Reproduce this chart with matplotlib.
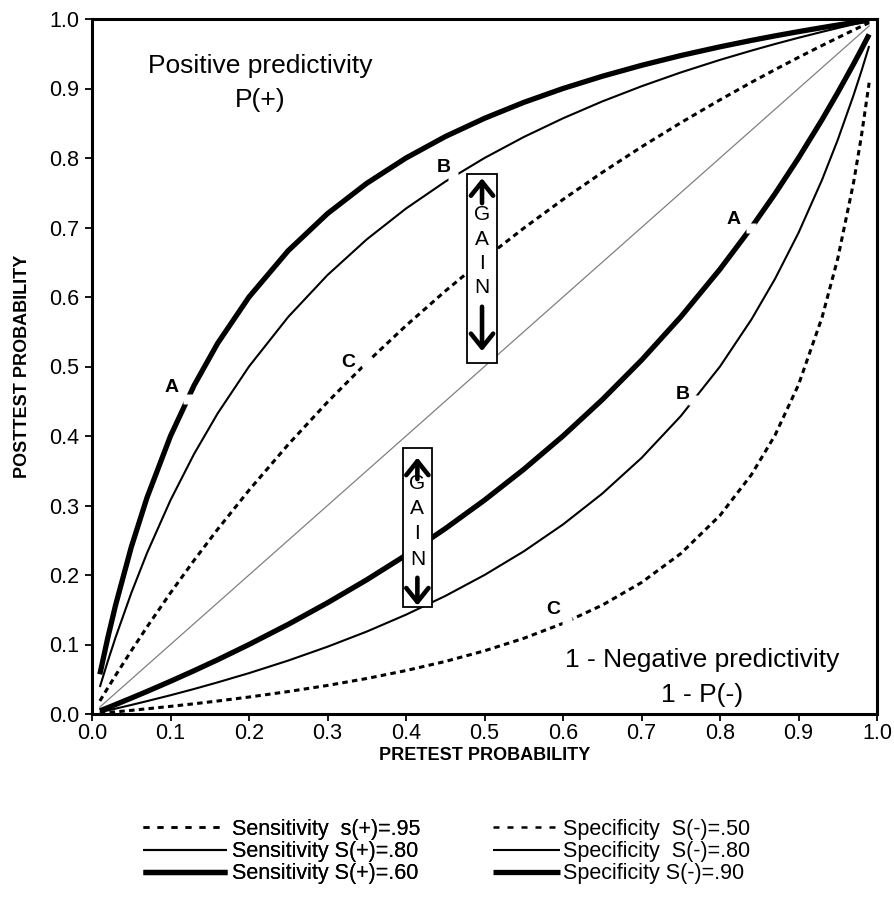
import matplotlib
matplotlib.use('Agg')
import matplotlib.pyplot as plt
import numpy as np
from matplotlib.patches import Rectangle
from matplotlib.lines import Line2D

plt.rcParams['font.family'] = ['Liberation Sans', 'DejaVu Sans']

# ---------------- data ----------------
pretest = [0.01, 0.02, 0.03, 0.05, 0.07, 0.10, 0.13, 0.16, 0.20, 0.25, 0.30, 0.35,
           0.40, 0.45, 0.50, 0.55, 0.60, 0.65, 0.70, 0.75, 0.80, 0.84, 0.87, 0.90,
           0.93, 0.95, 0.97, 0.98, 0.99]

# Positive predictivity P(+)
pos_s95 = [0.0188, 0.0373, 0.0555, 0.0909, 0.1251, 0.1743, 0.2211, 0.2657, 0.3220, 0.3878,
           0.4488, 0.5057, 0.5588, 0.6085, 0.6552, 0.6990, 0.7403, 0.7792, 0.8160, 0.8507,
           0.8837, 0.9089, 0.9271, 0.9448, 0.9619, 0.9730, 0.9840, 0.9894, 0.9947]
pos_s80 = [0.0388, 0.0755, 0.1101, 0.1739, 0.2314, 0.3077, 0.3741, 0.4324, 0.5000, 0.5714,
           0.6316, 0.6829, 0.7273, 0.7660, 0.8000, 0.8302, 0.8571, 0.8814, 0.9032, 0.9231,
           0.9412, 0.9545, 0.9640, 0.9730, 0.9815, 0.9870, 0.9923, 0.9949, 0.9975]
pos_s60 = [0.0571, 0.1091, 0.1565, 0.2400, 0.3111, 0.4000, 0.4727, 0.5333, 0.6000, 0.6667,
           0.7200, 0.7636, 0.8000, 0.8308, 0.8571, 0.8800, 0.9000, 0.9176, 0.9333, 0.9474,
           0.9600, 0.9692, 0.9757, 0.9818, 0.9876, 0.9913, 0.9949, 0.9966, 0.9983]

# 1 - Negative predictivity
neg_s50 = [0.0010, 0.0020, 0.0031, 0.0052, 0.0075, 0.0110, 0.0147, 0.0187, 0.0244, 0.0323,
           0.0411, 0.0511, 0.0625, 0.0756, 0.0909, 0.1089, 0.1304, 0.1566, 0.1892, 0.2308,
           0.2857, 0.3443, 0.4009, 0.4737, 0.5706, 0.6552, 0.7638, 0.8305, 0.9083]
neg_s80 = [0.0025, 0.0051, 0.0077, 0.0130, 0.0185, 0.0270, 0.0360, 0.0455, 0.0588, 0.0769,
           0.0968, 0.1186, 0.1429, 0.1698, 0.2000, 0.2340, 0.2727, 0.3171, 0.3684, 0.4286,
           0.5000, 0.5676, 0.6259, 0.6923, 0.7686, 0.8261, 0.8899, 0.9245, 0.9612]
neg_s90 = [0.0045, 0.0090, 0.0136, 0.0229, 0.0324, 0.0471, 0.0623, 0.0780, 0.1000, 0.1290,
           0.1600, 0.1931, 0.2286, 0.2667, 0.3077, 0.3520, 0.4000, 0.4522, 0.5091, 0.5714,
           0.6400, 0.7000, 0.7484, 0.8000, 0.8552, 0.8941, 0.9349, 0.9561, 0.9778]

diag_x = [0.01, 0.99]
diag_y = [0.01, 0.99]

sens_labels = ['Sensitivity  s(+)=.95', 'Sensitivity S(+)=.80', 'Sensitivity S(+)=.60']
spec_labels = ['Specificity  S(-)=.50', 'Specificity  S(-)=.80', 'Specificity S(-)=.90']

tick_vals = [0.0, 0.1, 0.2, 0.3, 0.4, 0.5, 0.6, 0.7, 0.8, 0.9, 1.0]
tick_labels = ['0.0', '0.1', '0.2', '0.3', '0.4', '0.5', '0.6', '0.7', '0.8', '0.9', '1.0']

# point labels: (series key, x of label point, text, text x, text y)
point_labels = [
    ('pos_s60', 0.122, 'A', 0.102, 0.470),
    ('pos_s80', 0.460, 'B', 0.448, 0.787),
    ('pos_s95', 0.350, 'C', 0.326, 0.506),
    ('neg_s90', 0.840, 'A', 0.817, 0.712),
    ('neg_s80', 0.766, 'B', 0.753, 0.460),
    ('neg_s50', 0.605, 'C', 0.587, 0.151),
]

# ---------------- figure ----------------
fig = plt.figure(figsize=(8.94, 9.0), dpi=100)
ax = fig.add_axes([92/894, 1-714/900, (877-92)/894, (714-19)/900])

dot_style = dict(color='black', lw=2.2, dashes=(1.8, 1.4), dash_capstyle='butt')
thin_style = dict(color='black', lw=1.5, solid_capstyle='butt')
thick_style = dict(color='black', lw=3.8, solid_capstyle='butt')

ax.plot(diag_x, diag_y, color='#808080', lw=0.9, zorder=2)

series = {}
series['pos_s95'] = ax.plot(pretest, pos_s95, label=sens_labels[0], zorder=3, **dot_style)[0]
series['pos_s80'] = ax.plot(pretest, pos_s80, label=sens_labels[1], zorder=3, **thin_style)[0]
series['pos_s60'] = ax.plot(pretest, pos_s60, label=sens_labels[2], zorder=3, **thick_style)[0]
series['neg_s50'] = ax.plot(pretest, neg_s50, label=spec_labels[0], zorder=3, **dot_style)[0]
series['neg_s80'] = ax.plot(pretest, neg_s80, label=spec_labels[1], zorder=3, **thin_style)[0]
series['neg_s90'] = ax.plot(pretest, neg_s90, label=spec_labels[2], zorder=3, **thick_style)[0]

data_map = {'pos_s95': pos_s95, 'pos_s80': pos_s80, 'pos_s60': pos_s60,
            'neg_s50': neg_s50, 'neg_s80': neg_s80, 'neg_s90': neg_s90}

for key, xg, txt, tx, ty in point_labels:
    yg = np.interp(xg, pretest, data_map[key])
    ax.plot([xg], [yg], marker='s', ms=7, color='white', mec='none', zorder=4)
    ax.text(tx, ty, txt, fontsize=14, fontweight='bold', ha='center', va='center', zorder=5)

ax.set_xlim(0, 1)
ax.set_ylim(0, 1)
ax.set_xticks(tick_vals)
ax.set_xticklabels(tick_labels)
ax.set_yticks(tick_vals)
ax.set_yticklabels(tick_labels)
ax.tick_params(direction='out', length=5, width=1.3, labelsize=15.5)
ax.tick_params(axis='x', pad=1.5)
ax.tick_params(axis='y', pad=4)
for sp in ax.spines.values():
    sp.set_linewidth(2.2)

ax.set_xlabel('PRETEST PROBABILITY', fontsize=13, fontweight='bold', labelpad=2)
ax.set_ylabel('POSTTEST PROBABILITY', fontsize=13, fontweight='bold', labelpad=13)

# region annotations
ax.text(0.214, 0.932, 'Positive predictivity', fontsize=19, ha='center', va='center')
ax.text(0.214, 0.884, 'P(+)', fontsize=19, ha='center', va='center')
ax.text(0.777, 0.077, '1 - Negative predictivity', fontsize=19, ha='center', va='center')
ax.text(0.777, 0.028, '1 - P(-)', fontsize=19, ha='center', va='center')

# GAIN boxes: (x0, y0, x1, y1), letter y positions, up arrow (tail, tip), down arrow (tail, tip)
gain_boxes = [
    dict(box=(0.4777, 0.505, 0.516, 0.777), letters=[0.719, 0.683, 0.648, 0.613],
         up=(0.735, 0.771), down=(0.586, 0.522)),
    dict(box=(0.396, 0.154, 0.433, 0.383), letters=[0.331, 0.295, 0.259, 0.223],
         up=(0.338, 0.369), down=(0.196, 0.156)),
]
for g in gain_boxes:
    x0, y0, x1, y1 = g['box']
    xc = (x0 + x1) / 2
    ax.add_patch(Rectangle((x0, y0), x1 - x0, y1 - y0, facecolor='white',
                           edgecolor='black', lw=1.3, zorder=6))
    for ly, ch in zip(g['letters'], 'GAIN'):
        ax.text(xc, ly, ch, fontsize=15, ha='center', va='center', zorder=7)
    for tail, tip in (g['up'], g['down']):
        ax.annotate('', xy=(xc, tip), xytext=(xc, tail),
                    arrowprops=dict(arrowstyle='->,head_length=0.5,head_width=0.4',
                                    lw=3.3, color='black', mutation_scale=20,
                                    shrinkA=0, shrinkB=0), zorder=7)

# legends (proxy handles with the same styles)
leg_dot = dict(color='black', lw=1.8, dashes=(2.4, 3.2), dash_capstyle='butt')
h_sens = [Line2D([], [], **leg_dot), Line2D([], [], **thin_style), Line2D([], [], **thick_style)]
h_spec = [Line2D([], [], **leg_dot), Line2D([], [], **thin_style), Line2D([], [], **thick_style)]
leg1 = fig.legend(h_sens, sens_labels, loc='upper left', bbox_to_anchor=(143/894, 1-819/900),
                  frameon=False, fontsize=15.5, handlelength=3.9, handletextpad=0.25,
                  labelspacing=0.05, borderpad=0, borderaxespad=0)
leg2 = fig.legend(h_spec, spec_labels, loc='upper left', bbox_to_anchor=(493/894, 1-819/900),
                  frameon=False, fontsize=15.5, handlelength=3.1, handletextpad=0.15,
                  labelspacing=0.05, borderpad=0, borderaxespad=0)
fig.add_artist(leg1)

fig.savefig('out.png', dpi=100)
